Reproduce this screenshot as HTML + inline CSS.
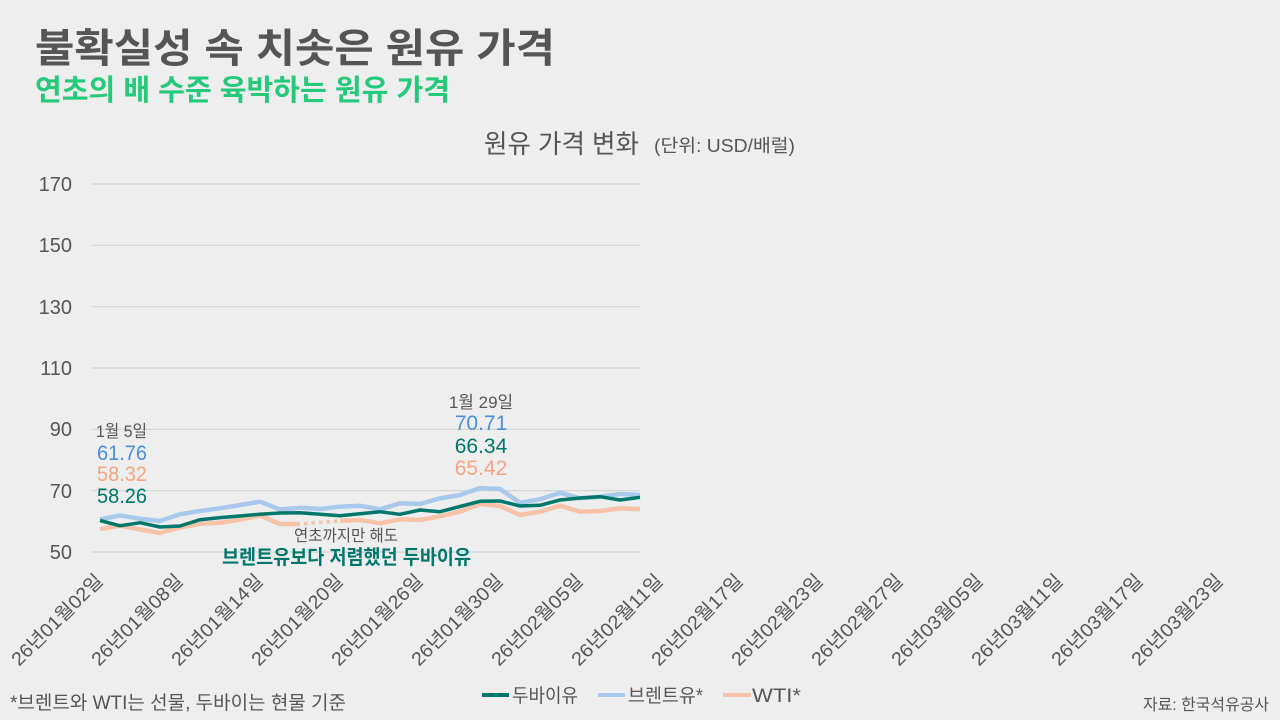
<!DOCTYPE html>
<html lang="ko">
<head>
<meta charset="utf-8">
<style>
  html, body { margin:0; padding:0; }
  body { width:1280px; height:720px; overflow:hidden; background:#eeeeee; }
  svg { display:block; }
  .kr { font-family:"Liberation Sans","Noto Sans CJK KR",sans-serif; }
  .num { font-family:"Liberation Sans","Noto Sans CJK KR",sans-serif; }
</style>
</head>
<body>
<svg width="1280" height="720" viewBox="0 0 1280 720" xmlns="http://www.w3.org/2000/svg">
  <rect x="0" y="0" width="1280" height="720" fill="#eeeeee"/>

  <!-- Titles -->
  <text class="kr" x="35" y="62" font-size="40" font-weight="700" fill="#555555" textLength="520" lengthAdjust="spacingAndGlyphs">불확실성 속 치솟은 원유 가격</text>
  <text class="kr" x="35" y="100" font-size="29" font-weight="700" fill="#25c97a" textLength="415" lengthAdjust="spacingAndGlyphs">연초의 배 수준 육박하는 원유 가격</text>

  <!-- Chart title -->
  <text class="kr" x="484" y="153" font-size="26" fill="#555555" textLength="155" lengthAdjust="spacingAndGlyphs">원유 가격 변화</text>
  <text class="kr" x="654" y="152" font-size="18" fill="#555555" textLength="141" lengthAdjust="spacingAndGlyphs">(단위: USD/배럴)</text>

  <!-- Gridlines -->
  <g stroke="#d2d2d2" stroke-width="1.2">
    <line x1="92" y1="184" x2="640" y2="184"/>
    <line x1="92" y1="245.3" x2="640" y2="245.3"/>
    <line x1="92" y1="306.7" x2="640" y2="306.7"/>
    <line x1="92" y1="368" x2="640" y2="368"/>
    <line x1="92" y1="429.3" x2="640" y2="429.3"/>
    <line x1="92" y1="490.7" x2="640" y2="490.7"/>
    <line x1="92" y1="552" x2="640" y2="552"/>
  </g>

  <!-- Y labels -->
  <g class="num" font-size="20" fill="#555555" text-anchor="end">
    <text x="72" y="191">170</text>
    <text x="72" y="252">150</text>
    <text x="72" y="314">130</text>
    <text x="72" y="375">110</text>
    <text x="72" y="436">90</text>
    <text x="72" y="498">70</text>
    <text x="72" y="559">50</text>
  </g>

  <!-- Series -->
  <polyline fill="none" stroke="#a9c9ec" stroke-width="4.5" stroke-linejoin="round"
    points="100,519.3 120,515.5 140,518.7 160,521 180,514.3 200,511 220,508.3 240,505 260,501.7 280,509.5 300,507.7 320,509 340,506.7 360,505.8 380,509.3 400,503.3 420,504 440,498.3 460,495 480,488 500,489 520,502.7 540,499.3 560,492.7 580,498.3 600,496.7 620,494 640,495"/>
  <polyline fill="none" stroke="#f6c3a8" stroke-width="4.5" stroke-linejoin="round"
    points="100,529.2 120,525.6 140,529.5 160,533 180,527.5 200,523.8 220,522.8 240,519.7 260,515.5 280,524 300,524"/>
  <line x1="304" y1="523.6" x2="338" y2="520.9" stroke="#f6c3a8" stroke-width="3.5" stroke-dasharray="3.5 4"/>
  <polyline fill="none" stroke="#f6c3a8" stroke-width="4.5" stroke-linejoin="round"
    points="340,520.7 360,520 380,523.3 400,519.3 420,520 440,516.3 460,511.7 480,504 500,506 520,515 540,511.7 560,505.7 580,511.7 600,511 620,508.3 640,509.3"/>
  <polyline fill="none" stroke="#00776b" stroke-width="3.5" stroke-linejoin="round"
    points="100,520.5 120,525.8 140,522.7 160,527 180,526 200,519.7 220,517.6 240,516 260,514.2 280,513 300,512.7 320,514.2 340,515.7 360,513.7 380,511.7 400,514.3 420,510 440,511.7 460,506.5 480,501.3 500,501 520,506 540,505.3 560,500 580,498 600,496.7 620,500 640,497.3"/>

  <!-- Annotation Jan 5 -->
  <text class="kr" x="96" y="437" font-size="17" fill="#555555" textLength="51" lengthAdjust="spacingAndGlyphs">1월 5일</text>
  <text class="num" x="97" y="460" font-size="21" fill="#4a8fdb" textLength="50" lengthAdjust="spacingAndGlyphs">61.76</text>
  <text class="num" x="97" y="481" font-size="21" fill="#f4a582" textLength="50" lengthAdjust="spacingAndGlyphs">58.32</text>
  <text class="num" x="97" y="503" font-size="21" fill="#00776b" textLength="50" lengthAdjust="spacingAndGlyphs">58.26</text>

  <!-- Annotation Jan 29 -->
  <text class="kr" x="481" y="408" font-size="17" fill="#555555" text-anchor="middle">1월 29일</text>
  <text class="num" x="481" y="430" font-size="21" fill="#4a8fdb" text-anchor="middle">70.71</text>
  <text class="num" x="481" y="453" font-size="21" fill="#00776b" text-anchor="middle">66.34</text>
  <text class="num" x="481" y="475" font-size="21" fill="#f4a582" text-anchor="middle">65.42</text>

  <!-- Note annotation -->
  <text class="kr" x="294" y="541" font-size="16" fill="#555555" textLength="104" lengthAdjust="spacingAndGlyphs">연초까지만 해도</text>
  <text class="kr" x="222" y="564" font-size="20" font-weight="700" fill="#00776b" textLength="249" lengthAdjust="spacingAndGlyphs">브렌트유보다 저렴했던 두바이유</text>

  <!-- X labels -->
  <g class="kr" font-size="19" fill="#555555" text-anchor="end">
    <text transform="translate(104,582) rotate(-45)" textLength="120" lengthAdjust="spacingAndGlyphs">26년01월02일</text>
    <text transform="translate(184,582) rotate(-45)" textLength="120" lengthAdjust="spacingAndGlyphs">26년01월08일</text>
    <text transform="translate(264,582) rotate(-45)" textLength="120" lengthAdjust="spacingAndGlyphs">26년01월14일</text>
    <text transform="translate(344,582) rotate(-45)" textLength="120" lengthAdjust="spacingAndGlyphs">26년01월20일</text>
    <text transform="translate(424,582) rotate(-45)" textLength="120" lengthAdjust="spacingAndGlyphs">26년01월26일</text>
    <text transform="translate(504,582) rotate(-45)" textLength="120" lengthAdjust="spacingAndGlyphs">26년01월30일</text>
    <text transform="translate(584,582) rotate(-45)" textLength="120" lengthAdjust="spacingAndGlyphs">26년02월05일</text>
    <text transform="translate(664,582) rotate(-45)" textLength="120" lengthAdjust="spacingAndGlyphs">26년02월11일</text>
    <text transform="translate(744,582) rotate(-45)" textLength="120" lengthAdjust="spacingAndGlyphs">26년02월17일</text>
    <text transform="translate(824,582) rotate(-45)" textLength="120" lengthAdjust="spacingAndGlyphs">26년02월23일</text>
    <text transform="translate(904,582) rotate(-45)" textLength="120" lengthAdjust="spacingAndGlyphs">26년02월27일</text>
    <text transform="translate(984,582) rotate(-45)" textLength="120" lengthAdjust="spacingAndGlyphs">26년03월05일</text>
    <text transform="translate(1064,582) rotate(-45)" textLength="120" lengthAdjust="spacingAndGlyphs">26년03월11일</text>
    <text transform="translate(1144,582) rotate(-45)" textLength="120" lengthAdjust="spacingAndGlyphs">26년03월17일</text>
    <text transform="translate(1224,582) rotate(-45)" textLength="120" lengthAdjust="spacingAndGlyphs">26년03월23일</text>
  </g>

  <!-- Legend -->
  <line x1="482" y1="695" x2="509" y2="695" stroke="#00776b" stroke-width="4"/>
  <text class="kr" x="512" y="702" font-size="19" fill="#555555" textLength="66" lengthAdjust="spacingAndGlyphs">두바이유</text>
  <line x1="598" y1="695" x2="625" y2="695" stroke="#a9c9ec" stroke-width="4"/>
  <text class="kr" x="628" y="702" font-size="19" fill="#555555" textLength="75" lengthAdjust="spacingAndGlyphs">브렌트유*</text>
  <line x1="723" y1="695" x2="751" y2="695" stroke="#f6c3a8" stroke-width="4"/>
  <text class="kr" x="752" y="702" font-size="19" fill="#555555" textLength="49" lengthAdjust="spacingAndGlyphs">WTI*</text>

  <!-- Footnotes -->
  <text class="kr" x="10" y="709" font-size="19" fill="#555555" textLength="336" lengthAdjust="spacingAndGlyphs">*브렌트와 WTI는 선물, 두바이는 현물 기준</text>
  <text class="kr" x="1143" y="710" font-size="16" fill="#555555" textLength="126" lengthAdjust="spacingAndGlyphs">자료: 한국석유공사</text>
</svg>
</body>
</html>
